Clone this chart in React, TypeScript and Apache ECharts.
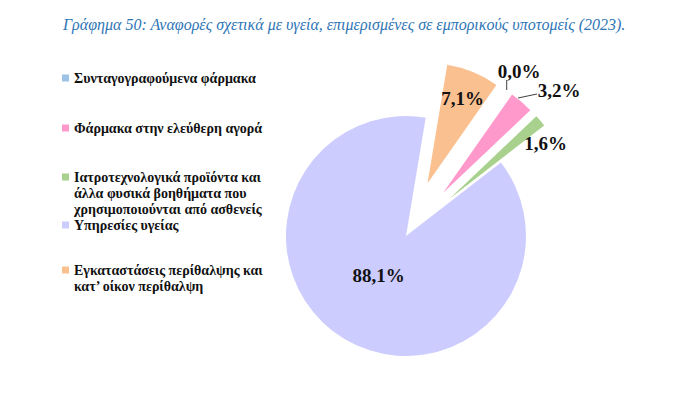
import React, { useEffect, useRef } from "react";
import * as echarts from "echarts";

const titleText =
  "Γράφημα 50: Αναφορές σχετικά με υγεία, επιμερισμένες σε εμπορικούς υποτομείς (2023).";

const categories = [
  "Συνταγογραφούμενα φάρμακα",
  "Φάρμακα στην ελεύθερη αγορά",
  "Ιατροτεχνολογικά προϊόντα και\nάλλα φυσικά βοηθήματα που\nχρησιμοποιούνται από ασθενείς",
  "Υπηρεσίες υγείας",
  "Εγκαταστάσεις περίθαλψης και\nκατ’ οίκον περίθαλψη",
];

const shares = [0.0, 3.2, 1.6, 88.1, 7.1];

const colors = ["#9DC3E6", "#FF99CC", "#A9D18E", "#CCCCFF", "#FAC090"];

const exploded = [true, true, true, false, true];

const FONT = "'Liberation Serif', 'DejaVu Serif', serif";

const CX = 398;
const CY = 228;
const R = 120;
const START = 35; // degrees clockwise from 12 o'clock
const EXPLODE = 57;

// label placement relative to the pie centre (layout only)
const labelSpots: { dx: number; dy: number; line?: number[][] }[] = [
  { dx: 113, dy: -165, line: [[100.7, -146], [100.7, -156]] },
  { dx: 153, dy: -146, line: [[112, -138], [131, -142]] },
  { dx: 139.5, dy: -93 },
  { dx: -27.5, dy: 39 },
  { dx: 56.5, dy: -137.5 },
];

export default function App() {
  const ref = useRef<HTMLDivElement>(null);

  useEffect(() => {
    if (!ref.current) return;
    const chart = echarts.init(ref.current, undefined, { renderer: "svg" });

    const legendTops = [70, 120, 169, 217, 262];
    const graphics: any[] = [
      {
        type: "text",
        left: 55,
        top: 8,
        style: {
          text: titleText,
          font: `italic 16px ${FONT}`,
          fill: "#2E75B6",
        },
      },
    ];
    categories.forEach((c, i) => {
      const y = legendTops[i];
      graphics.push({
        type: "rect",
        shape: { x: 54, y: y - 3.5, width: 7, height: 7 },
        style: { fill: colors[i] },
      });
      graphics.push({
        type: "text",
        x: 66,
        y: y - 8,
        style: {
          text: c,
          font: `bold 14px ${FONT}`,
          fill: "#111",
          lineHeight: 16,
          verticalAlign: "top",
        },
      });
    });

    const total = shares.reduce((a, b) => a + b, 0);
    let acc = 0;
    const mids = shares.map((v) => {
      const m = START + ((acc + v / 2) / total) * 360;
      acc += v;
      return m;
    });

    const series = categories.map((_, k) => {
      const off = exploded[k] ? EXPLODE : 0;
      const a = (mids[k] * Math.PI) / 180;
      const cx = CX + off * Math.sin(a);
      const cy = CY - off * Math.cos(a);
      return {
        type: "pie",
        center: [cx, cy],
        radius: R,
        startAngle: 90 - START,
        clockwise: true,
        avoidLabelOverlap: false,
        minShowLabelAngle: 0,
        silent: true,
        z: k === 3 ? 1 : 2,
        label: {
          color: "#111",
          fontFamily: FONT,
          fontWeight: "bold",
          fontSize: 19,
          formatter: (p: any) => p.value.toFixed(1).replace(".", ",") + "%",
        },
        labelLine: {
          length: 8,
          length2: 10,
          lineStyle: { color: "#404040", width: 1 },
        },
        labelLayout: (p: any) => {
          if (p.dataIndex !== k) return {};
          const s = labelSpots[k];
          const out: any = {
            x: CX + s.dx,
            y: CY + s.dy,
            align: "center",
            verticalAlign: "middle",
            hideOverlap: false,
          };
          if (s.line) {
            out.labelLinePoints = s.line.map((q) => [CX + q[0], CY + q[1]]);
          }
          return out;
        },
        emphasis: { disabled: true },
        data: categories.map((c, i) => ({
          name: c.replace(/\n/g, " "),
          value: shares[i],
          itemStyle: { color: i === k ? colors[i] : "rgba(0,0,0,0)" },
          label: {
            show: i === k,
            position: i === k && k < 2 ? "outside" : "inside",
          },
          labelLine: { show: i === k && k < 2 },
        })),
      };
    });

    chart.setOption({
      animation: false,
      graphic: graphics,
      series,
    });

    return () => chart.dispose();
  }, []);

  return <div ref={ref} style={{ width: 700, height: 395 }} />;
}
